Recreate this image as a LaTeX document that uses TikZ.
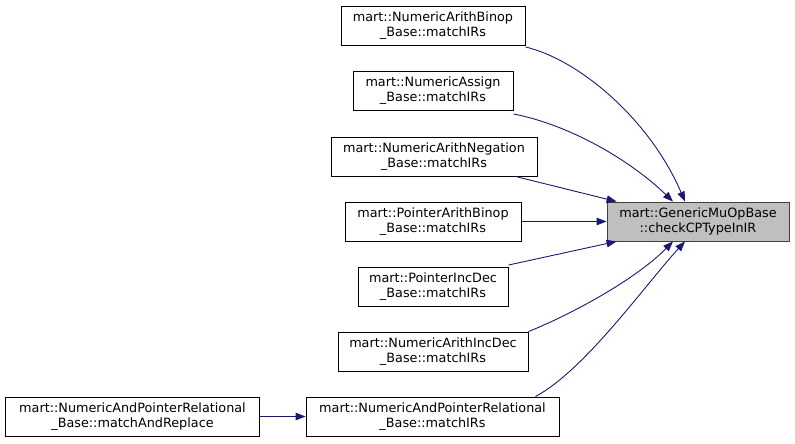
\documentclass[tikz,border=0pt]{standalone}
\usepackage{fontspec}
\setmainfont{DejaVu Sans}
\usetikzlibrary{arrows.meta}
\definecolor{edgeblue}{HTML}{191970}
\definecolor{targetfill}{HTML}{BFBFBF}
\definecolor{targetline}{HTML}{404040}
\tikzset{
  fn/.style={draw=black, line width=0.9pt, fill=white, align=center, inner sep=0pt,
    minimum height=39, font=\fontsize{12.8}{15}\selectfont},
  tgt/.style={fn, draw=targetline, fill=targetfill},
  call/.style={draw=edgeblue, line width=0.9pt, -{Triangle[length=10pt,width=7.5pt]}}
}
\begin{document}
\begin{tikzpicture}[x=1pt,y=-1pt]
\useasboundingbox (0,0) rectangle (795,444);
\node[tgt, minimum width=182] (t) at (698,221.5) {mart::GenericMuOpBase\\::checkCPTypeInIR};
\node[fn, minimum width=184] (b1) at (433,25.5) {mart::NumericArithBinop\\\_Base::matchIRs};
\node[fn, minimum width=160] (b2) at (433,90.5) {mart::NumericAssign\\\_Base::matchIRs};
\node[fn, minimum width=206] (b3) at (434,156.5) {mart::NumericArithNegation\\\_Base::matchIRs};
\node[fn, minimum width=176] (b4) at (433,221.5) {mart::PointerArithBinop\\\_Base::matchIRs};
\node[fn, minimum width=150] (b5) at (433,286.5) {mart::PointerIncDec\\\_Base::matchIRs};
\node[fn, minimum width=190] (b6) at (433,351.5) {mart::NumericArithIncDec\\\_Base::matchIRs};
\node[fn, minimum width=253] (b7) at (432.5,416.5) {mart::NumericAndPointerRelational\\\_Base::matchIRs};
\node[fn, minimum width=254] (b8) at (132.5,416.5) {mart::NumericAndPointerRelational\\\_Base::matchAndReplace};

\draw[call] ([yshift=-1.5]b1.south east) .. controls (580,60) and (650,120) .. ([xshift=-13]t.north);
\draw[call] ([yshift=-3.5]b2.south east) .. controls (570,125) and (630,160) .. ([xshift=-25]t.north);
\draw[call] ([xshift=-22]b3.south east) -- ([xshift=10]t.north west);
\draw[call] (b4.east) -- (t.west);
\draw[call] ([yshift=1.5]b5.north east) -- ([xshift=10]t.south west);
\draw[call] (b6.north east) .. controls (570,315) and (635,280) .. ([xshift=-25]t.south);
\draw[call] ([xshift=-24]b7.north east) .. controls (585,370) and (645,285) .. ([xshift=-13]t.south);
\draw[call] (b8.east) -- (b7.west);
\end{tikzpicture}
\end{document}
